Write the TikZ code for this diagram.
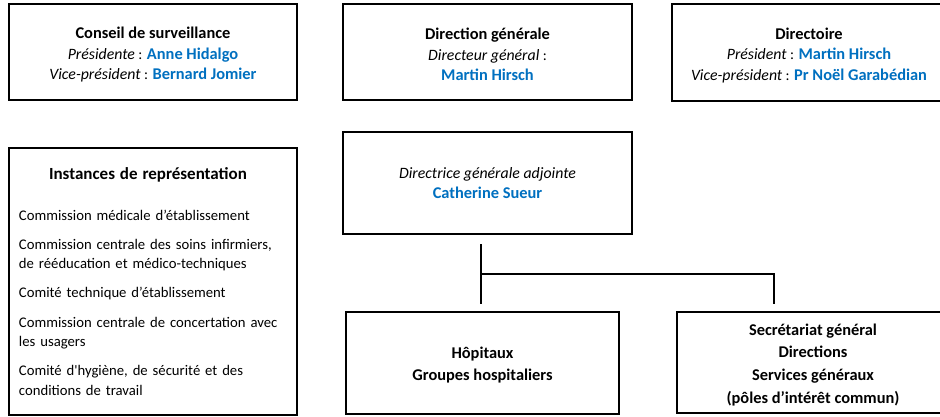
\documentclass[tikz,border=0pt]{standalone}
\usepackage{fontspec}
\setmainfont{Carlito}
\usetikzlibrary{calc}
\definecolor{nameblue}{RGB}{0,112,192}
\newcommand{\bt}[1]{{\fontsize{16.4}{20.5}\selectfont\bfseries #1}}
\newcommand{\itx}[1]{{\fontsize{15.8}{20.5}\selectfont\itshape #1}}
\newcommand{\bluename}[1]{\textcolor{nameblue}{\bt{#1}}}
\begin{document}
\begin{tikzpicture}[x=1pt,y=-1pt,
  box/.style={draw=black, line width=2.6pt, fill=white, inner sep=0pt, align=center,
    font=\fontsize{15}{20.5}\selectfont},
  conn/.style={draw=black, line width=2.6pt}]
\useasboundingbox (0,0) rectangle (940,417);
\clip (0,0) rectangle (940,417);
\fill[white] (0,0) rectangle (940,417);

\node[box, minimum width=288pt, minimum height=96pt] (cs) at (153,52)
  {\rule{0pt}{17pt}\bt{Conseil de surveillance}\\
   \itx{Présidente} : \bluename{Anne Hidalgo}\\
   \itx{Vice-président} : \bluename{Bernard Jomier}};
\node[box, minimum width=289pt, minimum height=96pt] (dg) at (487.5,52)
  {\rule{0pt}{17pt}\bt{Direction générale}\\
   \itx{Directeur général} :\\
   \bluename{Martin Hirsch}};
\node[box, minimum width=274pt, minimum height=97pt] (dir) at (809,52.5)
  {\rule{0pt}{17pt}\bt{Directoire}\\
   \itx{Président} : \bluename{Martin Hirsch}\\
   \itx{Vice-président} : \bluename{Pr Noël Garabédian}};

\node[box, minimum width=288pt, minimum height=267pt, text width=268pt, align=left,
  font=\fontsize{14.7}{19.3}\selectfont] (inst) at (153,281.5)
  {\makebox[258pt]{{\fontsize{17}{20.5}\selectfont\bfseries Instances de représentation}}\\[21pt]
   Commission médicale d’établissement\\[10pt]
   Commission centrale des soins infirmiers,\\
   de rééducation et médico-techniques\\[10pt]
   Comité technique d’établissement\\[10pt]
   Commission centrale de concertation avec\\
   les usagers\\[10pt]
   Comité d\textquotesingle hygiène, de sécurité et des\\
   conditions de travail};

\node[box, minimum width=289pt, minimum height=102pt] (dga) at (487.5,183)
  {\itx{Directrice générale adjointe}\\
   \bluename{Catherine Sueur}};
\node[box, minimum width=273pt, minimum height=102pt, font=\fontsize{15}{22}\selectfont] (hop) at (482.5,363)
  {\rule{0pt}{16pt}\bt{Hôpitaux}\\
   \bt{Groupes hospitaliers}};
\node[box, minimum width=272pt, minimum height=101pt, font=\fontsize{15}{22.6}\selectfont] (sec) at (813,362.5)
  {\rule{0pt}{16pt}\bt{Secrétariat général}\\
   \bt{Directions}\\
   \bt{Services généraux}\\
   \bt{(pôles d’intérêt commun)}};

\coordinate (j) at (481,274);
\coordinate (k) at (774,274);
\draw[conn] ($(j |- dga.south)+(0,9)$) -- ($(j |- hop.north)+(0,-7)$);
\draw[conn] (j) -- (k) -- ($(k |- sec.north)+(0,-7)$);
\end{tikzpicture}
\end{document}
